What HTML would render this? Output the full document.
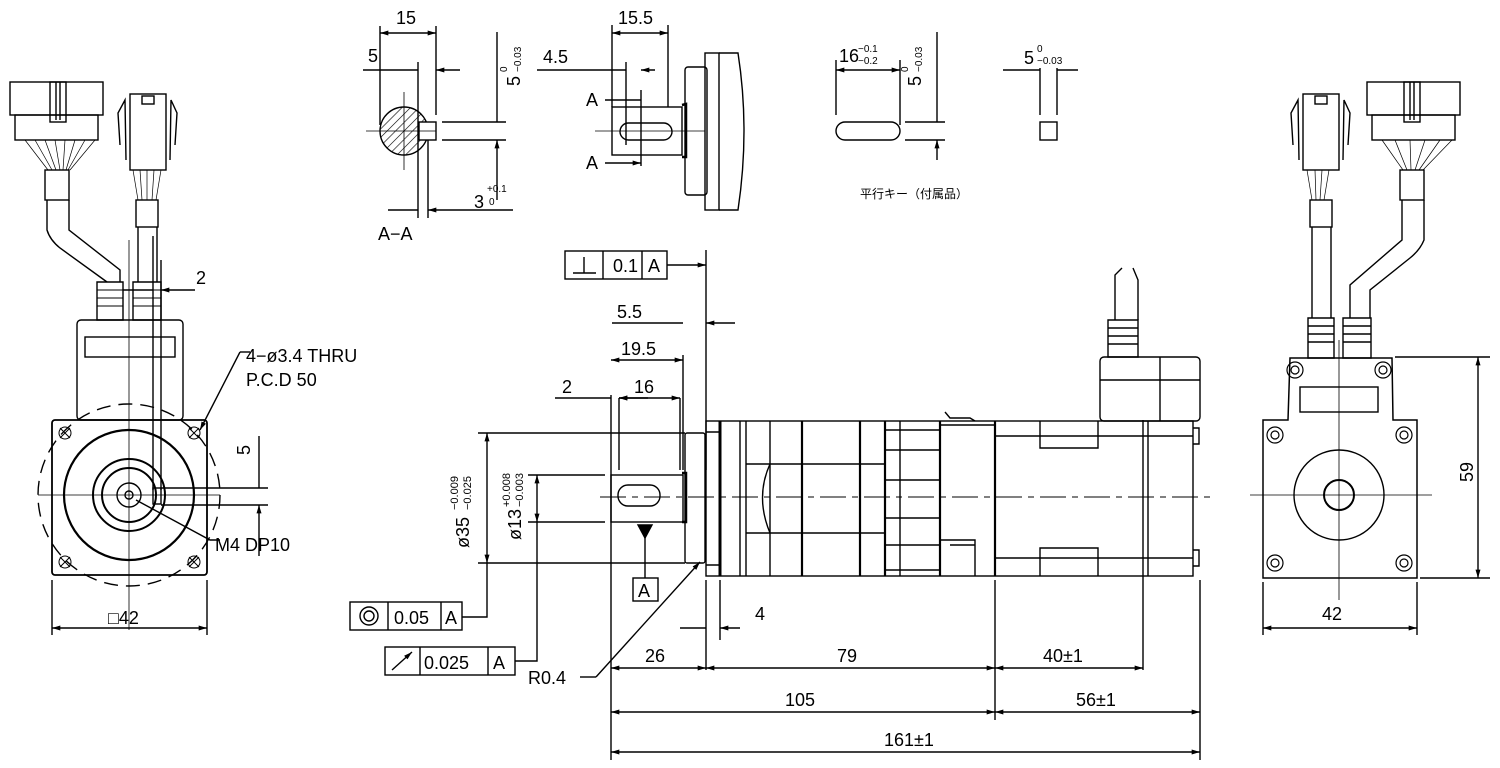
<!DOCTYPE html>
<html><head><meta charset="utf-8"><style>
html,body{margin:0;padding:0;background:#fff}
svg{display:block}
text{font-family:"Liberation Sans","Noto Sans CJK JP",sans-serif;fill:#000}
</style></head><body>
<svg width="1500" height="768" viewBox="0 0 1500 768" xmlns="http://www.w3.org/2000/svg">
<defs>
<marker id="a" viewBox="0 0 10 6" refX="10" refY="3" markerWidth="12" markerHeight="5" orient="auto-start-reverse" markerUnits="userSpaceOnUse"><path d="M0,0L10,3L0,6z" fill="#000"/></marker>
<pattern id="h" width="6" height="6" patternUnits="userSpaceOnUse" patternTransform="rotate(45)"><line x1="0" y1="0" x2="0" y2="6" stroke="#000" stroke-width="1.2"/></pattern>
</defs>
<g fill="none" stroke="#000" stroke-width="1.4">

<!-- ===== LEFT VIEW ===== -->
<rect x="10" y="82" width="93" height="33"/>
<rect x="15" y="115" width="83" height="25"/>
<rect x="50" y="82" width="16" height="40"/><line x1="56" y1="82" x2="56" y2="120"/><line x1="60" y1="82" x2="60" y2="120"/>
<path d="M25,140 L48,170 M35,140 L52,170 M45,140 L56,170 M55,140 L60,170 M65,140 L63,170 M75,140 L66,170 M85,140 L68,170 M95,140 L70,170" stroke-width="0.7"/>
<rect x="45" y="170" width="24" height="30"/>
<path d="M47,200 L47,230 Q50,240 60,248 L107,282 L107,282 M69,200 L69,230 L120,270 L120,282"/>
<rect x="130" y="94" width="36" height="76"/><rect x="142" y="96" width="12" height="8"/>
<path d="M120,145 L118,113 L125,100 L126,160 M175,145 L177,113 L171,100 L170,160"/>
<path d="M133,170 L138,200 M140,170 L142,200 M147,170 L147,200 M154,170 L152,200 M161,170 L156,200" stroke-width="0.7"/>
<rect x="136" y="200" width="22" height="27"/>
<path d="M138,227 L138,282 M157,227 L157,282"/>
<path d="M97,282 h26 v38 h-26z M133,282 h28 v38 h-28z"/>
<path d="M97,290 h26 M97,298 h26 M97,306 h26 M133,290 h28 M133,298 h28 M133,306 h28" stroke-width="0.9"/>
<rect x="77" y="320" width="106" height="100" rx="4"/>
<rect x="85" y="337" width="90" height="20"/>
<rect x="52" y="420" width="155" height="155" rx="3" stroke-width="1.8"/>
<circle cx="129" cy="495" r="91" stroke-dasharray="14,8"/>
<circle cx="129" cy="495" r="65" stroke-width="2.2"/>
<circle cx="129" cy="495" r="36" stroke-width="2"/>
<circle cx="129" cy="495" r="27" stroke-width="2"/>
<circle cx="129" cy="495" r="12"/>
<circle cx="129" cy="495" r="4"/>
<g stroke-width="1"><circle cx="65" cy="433" r="6"/><path d="M60,428l10,10M70,428l-10,10"/>
<circle cx="194" cy="433" r="6"/><path d="M189,428l10,10M199,428l-10,10"/>
<circle cx="65" cy="562" r="6"/><path d="M60,557l10,10M70,557l-10,10"/>
<circle cx="194" cy="562" r="6"/><path d="M189,557l10,10M199,557l-10,10"/></g>
<path d="M38,495 H220 M129,240 V630" stroke-width="0.8"/>
<rect x="153" y="488" width="8" height="16"/>
<path d="M153,236 V490 M161,260 V490"/>
<path d="M123,290 H153 M195,290 H161" marker-end="url(#a)"/>
<path d="M161,488 H268 M161,505 H268"/>
<path d="M259,436 V488 M259,556 V505" marker-end="url(#a)"/>
<path d="M240,352 L200,430" marker-end="url(#a)"/><path d="M240,352 H250"/>
<path d="M136,500 L210,540 H220"/>
<path d="M52,580 V635 M207,580 V635"/>
<path d="M52,628 H207" marker-start="url(#a)" marker-end="url(#a)"/>

<!-- ===== SECTION A-A ===== -->
<circle cx="404" cy="131" r="24" fill="url(#h)"/>
<rect x="419" y="122" width="17" height="18" fill="#fff"/>
<path d="M366,131 H436 M404,92 V170" stroke-width="0.8"/>
<path d="M380,26 V125 M436,26 V115 M418,62 V218 M428,140 V218"/>
<path d="M380,33 H436" marker-start="url(#a)" marker-end="url(#a)"/>
<path d="M363,70 H418 M460,70 H436" marker-end="url(#a)"/>
<path d="M442,122 H506 M442,140 H506"/>
<path d="M497,32 V122 M497,200 V140" marker-end="url(#a)"/>
<path d="M388,210 H418 M513,210 H428" marker-end="url(#a)"/>

<!-- ===== SHAFT DETAIL ===== -->
<rect x="612" y="107" width="70" height="48"/>
<rect x="620" y="123" width="52" height="17" rx="8.5"/>
<path d="M595,131 H705" stroke-width="0.8"/>
<path d="M682,105 L686,104 V157 L682,157" stroke-width="2.5"/>
<rect x="685" y="67" width="22" height="128" rx="3"/>
<rect x="705" y="53" width="14" height="157"/>
<path d="M719,53 H738 Q750,130 738,210 H719"/>
<path d="M612,25 V107 M668,25 V107 M626,62 V145 M641,90 V166"/>
<path d="M612,33 H668" marker-start="url(#a)" marker-end="url(#a)"/>
<path d="M537,70 H626 M655,70 H641" marker-end="url(#a)"/>
<path d="M605,100 H641 M605,163 H641" marker-end="url(#a)"/>

<!-- ===== KEY ===== -->
<rect x="836" y="122" width="64" height="18" rx="9"/>
<path d="M836,60 V115 M900,60 V125"/>
<path d="M836,70 H900" marker-start="url(#a)" marker-end="url(#a)"/>
<path d="M905,122 H945 M905,140 H945"/>
<path d="M937,32 V122 M937,160 V140" marker-end="url(#a)"/>
<rect x="1040" y="122" width="17" height="18"/>
<path d="M1040,68 V115 M1057,68 V115"/>
<path d="M1003,70 H1040 M1078,70 H1057"/>

<!-- ===== MAIN SIDE VIEW ===== -->
<rect x="611" y="475" width="72" height="47"/>
<rect x="618" y="485" width="42" height="21" rx="10"/>
<path d="M682,473 L686,473 V522 L682,522" stroke-width="2.5"/>
<rect x="685" y="433" width="20" height="130" rx="2"/>
<rect x="706" y="421" width="487" height="155"/>
<path d="M720,421 V576" stroke-width="3"/>
<path d="M706,432 H720 M706,565 H720"/>
<path d="M740,421 V576 M746,421 V576 M770,421 V576" />
<path d="M802,421 V576 M860,421 V576 M885,421 V576 M940,421 V576 M995,421 V576" stroke-width="2.2"/>
<path d="M746,464 H885 M746,533 H885 M770,464 Q755,497 770,533"/>
<path d="M885,430 H940 M885,570 H940 M885,450 H940 M885,480 H940 M885,518 H940 M885,545 H940 M900,421 V576"/>
<path d="M940,425 H995 M940,540 H975 V576 M950,545 H975 M945,412 L950,418 H970 L975,421"/>
<path d="M995,436 H1193 M995,558 H1193 M1040,421 V448 H1098 V421 M1040,576 V548 H1098 V548 V576 M1148,421 V576"/>
<path d="M1193,428 h6 v16 h-6 M1193,550 h6 v16 h-6"/>
<path d="M600,497 H1215" stroke-dasharray="26,6,6,6" stroke-width="0.9"/>
<rect x="1100" y="357" width="100" height="64" rx="4"/>
<path d="M1160,357 V421 M1100,380 H1200"/>
<path d="M1108,320 h30 v37 h-30z M1108,328 h30 M1108,336 h30 M1108,344 h30"/>
<path d="M1115,320 V275 L1122,268 M1138,320 V280 L1133,268" />
<path d="M611,395 V760 M619,398 V470 M680,398 V470 M683,355 V470 M706,250 V470 M706,580 V670 M720,580 V640 M995,580 V720 M1143,420 V670 M1200,580 V760"/>
<path d="M555,398 H611 M648,398 H619" marker-end="url(#a)"/>
<path d="M619,398 H680" marker-start="url(#a)" marker-end="url(#a)"/>
<path d="M611,360 H683" marker-start="url(#a)" marker-end="url(#a)"/>
<path d="M612,323 H683 M735,323 H706" marker-end="url(#a)"/>
<path d="M667,265 H706" marker-end="url(#a)"/>
<path d="M478,433 H685 M478,563 H685 M528,475 H605 M528,522 H605"/>
<path d="M487,433 V563" marker-start="url(#a)" marker-end="url(#a)"/>
<path d="M537,475 V522" marker-start="url(#a)" marker-end="url(#a)"/>
<path d="M487,563 V617 H462 M537,522 V661 H515"/>
<path d="M645,535 V578"/><path d="M638,525 H652 L645,538z" fill="#000"/>
<rect x="633" y="578" width="25" height="23"/>
<path d="M596,677 L700,562" marker-end="url(#a)"/><path d="M580,677 H596"/>
<path d="M680,628 H706 M740,628 H720" marker-end="url(#a)"/>
<path d="M611,668 H706" marker-start="url(#a)" marker-end="url(#a)"/>
<path d="M706,668 H995" marker-start="url(#a)" marker-end="url(#a)"/>
<path d="M995,668 H1143" marker-start="url(#a)" marker-end="url(#a)"/>
<path d="M611,712 H995" marker-start="url(#a)" marker-end="url(#a)"/>
<path d="M995,712 H1200" marker-start="url(#a)" marker-end="url(#a)"/>
<path d="M611,752 H1200" marker-start="url(#a)" marker-end="url(#a)"/>
<rect x="565" y="251" width="102" height="28"/><path d="M603,251 V279 M642,251 V279"/>
<path d="M573,273 H596 M584,257 V273"/>
<rect x="350" y="602" width="112" height="28"/><path d="M388,602 V630 M441,602 V630"/>
<circle cx="369" cy="616" r="9"/><circle cx="369" cy="616" r="5"/>
<rect x="385" y="647" width="130" height="28"/><path d="M420,647 V675 M488,647 V675"/>
<path d="M392,670 L412,652" marker-end="url(#a)"/>

<!-- ===== RIGHT VIEW ===== -->
<rect x="1367" y="82" width="93" height="33"/>
<rect x="1372" y="115" width="83" height="25"/>
<rect x="1404" y="82" width="16" height="40"/><line x1="1410" y1="82" x2="1410" y2="120"/><line x1="1414" y1="82" x2="1414" y2="120"/>
<path d="M1382,140 L1403,170 M1395,140 L1407,170 M1410,140 L1411,170 M1425,140 L1415,170 M1440,140 L1419,170 M1452,140 L1423,170" stroke-width="0.7"/>
<rect x="1400" y="170" width="24" height="30"/>
<path d="M1402,200 L1402,240 L1350,285 L1350,318 M1424,200 L1424,240 Q1420,250 1410,258 L1370,290 L1370,318"/>
<rect x="1303" y="94" width="36" height="76"/><rect x="1315" y="96" width="12" height="8"/>
<path d="M1293,145 L1291,113 L1298,100 L1299,160 M1348,145 L1350,113 L1344,100 L1343,160"/>
<path d="M1307,170 L1312,200 M1315,170 L1316,200 M1322,170 L1320,200 M1329,170 L1324,200" stroke-width="0.7"/>
<rect x="1310" y="200" width="22" height="27"/>
<path d="M1312,227 V318 M1331,227 V318"/>
<path d="M1308,318 h26 v40 h-26z M1343,318 h28 v40 h-28z M1308,326 h26 M1308,334 h26 M1308,342 h26 M1343,326 h28 M1343,334 h28 M1343,342 h28"/>
<path d="M1290,358 H1392 L1393,420 H1417 V578 H1263 V420 H1288z" stroke-width="1.5"/>
<rect x="1300" y="387" width="78" height="25"/>
<circle cx="1339" cy="495" r="45"/><circle cx="1339" cy="495" r="15" stroke-width="2"/>
<path d="M1250,495 H1432 M1339,340 V600" stroke-width="0.8"/>
<g stroke-width="1.2">
<circle cx="1295" cy="370" r="8"/><circle cx="1295" cy="370" r="4"/>
<circle cx="1383" cy="370" r="8"/><circle cx="1383" cy="370" r="4"/>
<circle cx="1275" cy="435" r="8"/><circle cx="1275" cy="435" r="4"/>
<circle cx="1404" cy="435" r="8"/><circle cx="1404" cy="435" r="4"/>
<circle cx="1275" cy="563" r="8"/><circle cx="1275" cy="563" r="4"/>
<circle cx="1404" cy="563" r="8"/><circle cx="1404" cy="563" r="4"/></g>
<path d="M1395,357 H1490 M1420,578 H1490 M1263,582 V635 M1417,582 V635"/>
<path d="M1478,357 V578" marker-start="url(#a)" marker-end="url(#a)"/>
<path d="M1263,628 H1417" marker-start="url(#a)" marker-end="url(#a)"/>
</g>

<!-- ===== TEXT ===== -->
<g font-size="18">
<text x="396" y="24">15</text>
<text x="368" y="62">5</text>
<text x="378" y="240">A−A</text>
<text x="474" y="208">3</text><text x="487" y="192" font-size="10">+0.1</text><text x="489" y="205" font-size="10">0</text>
<text transform="translate(520,86) rotate(-90)">5</text><text transform="translate(507,72) rotate(-90)" font-size="10">0</text><text transform="translate(521,72) rotate(-90)" font-size="10">−0.03</text>
<text x="618" y="24">15.5</text>
<text x="543" y="63">4.5</text>
<text x="586" y="106">A</text><text x="586" y="169">A</text>
<text x="839" y="62">16</text><text x="858" y="52" font-size="10">−0.1</text><text x="858" y="64" font-size="10">−0.2</text>
<text transform="translate(921,86) rotate(-90)">5</text><text transform="translate(908,72) rotate(-90)" font-size="10">0</text><text transform="translate(922,72) rotate(-90)" font-size="10">−0.03</text>
<text x="1024" y="64">5</text><text x="1037" y="52" font-size="10">0</text><text x="1037" y="64" font-size="10">−0.03</text>
<text x="860" y="198" font-size="12">平行キー（付属品）</text>
<text x="196" y="284">2</text>
<text x="246" y="362">4−ø3.4 THRU</text>
<text x="246" y="386">P.C.D 50</text>
<text transform="translate(250,455) rotate(-90)">5</text>
<text x="215" y="551">M4 DP10</text>
<text x="108" y="624">□42</text>
<text x="613" y="272">0.1</text><text x="648" y="272">A</text>
<text x="617" y="318">5.5</text>
<text x="621" y="355">19.5</text>
<text x="562" y="393">2</text><text x="634" y="393">16</text>
<text x="394" y="624">0.05</text><text x="445" y="624">A</text>
<text x="424" y="669">0.025</text><text x="493" y="669">A</text>
<text x="638" y="597">A</text>
<text transform="translate(469,548) rotate(-90)">ø35</text><text transform="translate(458,510) rotate(-90)" font-size="11">−0.009</text><text transform="translate(471,510) rotate(-90)" font-size="11">−0.025</text>
<text transform="translate(521,540) rotate(-90)">ø13</text><text transform="translate(510,507) rotate(-90)" font-size="11">+0.008</text><text transform="translate(523,507) rotate(-90)" font-size="11">−0.003</text>
<text x="528" y="684">R0.4</text>
<text x="755" y="620">4</text>
<text x="645" y="662">26</text>
<text x="837" y="662">79</text>
<text x="1043" y="662">40±1</text>
<text x="785" y="706">105</text>
<text x="1076" y="706">56±1</text>
<text x="884" y="746">161±1</text>
<text x="1322" y="620">42</text>
<text transform="translate(1473,482) rotate(-90)">59</text>
</g>
</svg>
</body></html>
